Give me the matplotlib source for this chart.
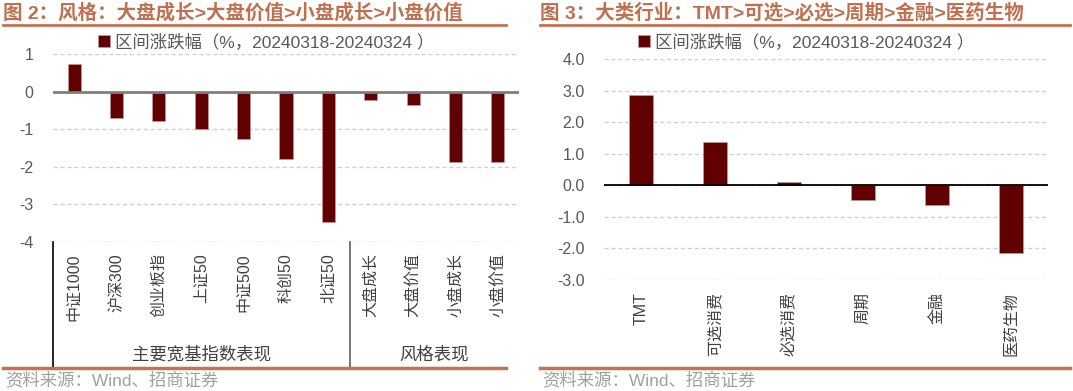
import matplotlib as mpl
mpl.use('Agg')
import matplotlib.pyplot as plt
from matplotlib.lines import Line2D
import numpy as np

plt.rcParams['font.family'] = ['Liberation Sans', 'Noto Sans CJK SC', 'DejaVu Sans']
plt.rcParams['axes.unicode_minus'] = False

# left chart: broad index + style
cats_l = ['中证1000', '沪深300', '创业板指', '上证50', '中证500', '科创50', '北证50',
          '大盘成长', '大盘价值', '小盘成长', '小盘价值']
vals_l = [0.73, -0.71, -0.79, -0.99, -1.27, -1.79, -3.46, -0.23, -0.35, -1.86, -1.88]
groups_l = ['主要宽基指数表现', '风格表现']
group_sizes = [7, 4]
yticks_l = [1, 0, -1, -2, -3, -4]

# right chart: sectors
cats_r = ['TMT', '可选消费', '必选消费', '周期', '金融', '医药生物']
vals_r = [2.85, 1.38, 0.10, -0.47, -0.63, -2.16]
yticks_r = [4.0, 3.0, 2.0, 1.0, 0.0, -1.0, -2.0, -3.0]

title_l = '图 2：风格：大盘成长>大盘价值>小盘成长>小盘价值'
title_r = '图 3：大类行业：TMT>可选>必选>周期>金融>医药生物'
legend_txt = '区间涨跌幅（%，20240318-20240324 ）'
source_txt = '资料来源：Wind、招商证券'

W, H = 1073, 391
bar_c = '#600000'
title_c = '#C0704F'
line_c = '#C87050'
tick_c = '#595959'

fig = plt.figure(figsize=(W / 100, H / 100), dpi=100)


def fx(px):
    return px / W


def fy(py):
    return 1 - py / H


def box(x0, x1, y0, y1):
    return [fx(x0), fy(y1), fx(x1) - fx(x0), fy(y0) - fy(y1)]


def style_ax(ax, yticks, fmt):
    ax.set_yticks(yticks)
    ax.set_yticklabels([fmt.format(v) for v in yticks], fontsize=11.5, color=tick_c)
    ax.tick_params(axis='y', length=0, pad=14)
    ax.tick_params(axis='x', length=0)
    for s in ax.spines.values():
        s.set_visible(False)
    ax.grid(axis='y', color='#d0d0d0', lw=1, ls=(0, (3, 2)))
    ax.set_axisbelow(True)


# ---- left ----
ax1 = fig.add_axes(box(53, 519, 54, 242))
x1 = np.arange(len(cats_l))
b1 = ax1.bar(x1, vals_l, width=0.31, color=bar_c, edgecolor='#c89a9a', lw=0.5,
             label=legend_txt, zorder=3)
ax1.set_xlim(-0.5, len(cats_l) - 0.5)
ax1.set_ylim(-4, 1)
style_ax(ax1, yticks_l, '{:d}')
ax1.axhline(0, color='#7f7f7f', lw=2, zorder=4)
ax1.set_xticks(x1)
ax1.set_xticklabels(cats_l, rotation=90, fontsize=11.5, color='#404040', va='top')
ax1.tick_params(axis='x', pad=8)

# group separators and group labels
ybot = (242 - 367) / (242 - 54)
ylab = (242 - 354) / (242 - 54)
trans = ax1.get_xaxis_transform()
start = 0
seps = [-0.5]
for g, n in zip(groups_l, group_sizes):
    ax1.text(start + (n - 1) / 2, ylab, g, transform=trans, ha='center', va='center',
             fontsize=12.5, color='#404040')
    start += n
    if start < len(cats_l):
        seps.append(start - 0.5)
for i, s in enumerate(seps):
    ax1.plot([s, s], [0, ybot], transform=trans, clip_on=False,
             color='black' if i == 0 else '#606060', lw=1.2)

ax1.legend(handles=[b1], loc='center left', frameon=False, fontsize=12.5,
           bbox_to_anchor=(fx(98), fy(42)), bbox_transform=fig.transFigure,
           borderaxespad=0, borderpad=0, handlelength=0.7, handleheight=0.7,
           handletextpad=0.3, labelcolor=tick_c)

# ---- right ----
ax2 = fig.add_axes(box(604, 1048, 59, 280))
x2 = np.arange(len(cats_r))
b2 = ax2.bar(x2, vals_r, width=0.33, color=bar_c, edgecolor='#c89a9a', lw=0.5,
             label=legend_txt, zorder=3)
ax2.set_xlim(-0.5, len(cats_r) - 0.5)
ax2.set_ylim(-3, 4)
style_ax(ax2, yticks_r, '{:.1f}')
ax2.axhline(0, color='black', lw=1.3, zorder=4)
ax2.set_xticks(x2)
ax2.set_xticklabels(cats_r, rotation=90, fontsize=11.5, color='#404040', va='top')
ax2.tick_params(axis='x', pad=9)

ax2.legend(handles=[b2], loc='center left', frameon=False, fontsize=12.5,
           bbox_to_anchor=(fx(638), fy(42)), bbox_transform=fig.transFigure,
           borderaxespad=0, borderpad=0, handlelength=0.7, handleheight=0.7,
           handletextpad=0.3, labelcolor=tick_c)

# ---- titles, rules, sources ----
for x0, x1_, t in [(3, 506, title_l), (540, 1070, title_r)]:
    fig.text(fx(x0), fy(13), t, fontsize=14, fontweight='bold', color=title_c,
             ha='left', va='center')
    fig.add_artist(Line2D([fx(x0), fx(x1_)], [fy(25), fy(25)], color=line_c, lw=2))
    fig.add_artist(Line2D([fx(x0), fx(x1_)], [fy(367.5), fy(367.5)], color=line_c, lw=2.5))
    fig.text(fx(x0 + 2), fy(380), source_txt, fontsize=12.5, color='#a0a0a0',
             ha='left', va='center')

fig.savefig('out.png', dpi=100)
